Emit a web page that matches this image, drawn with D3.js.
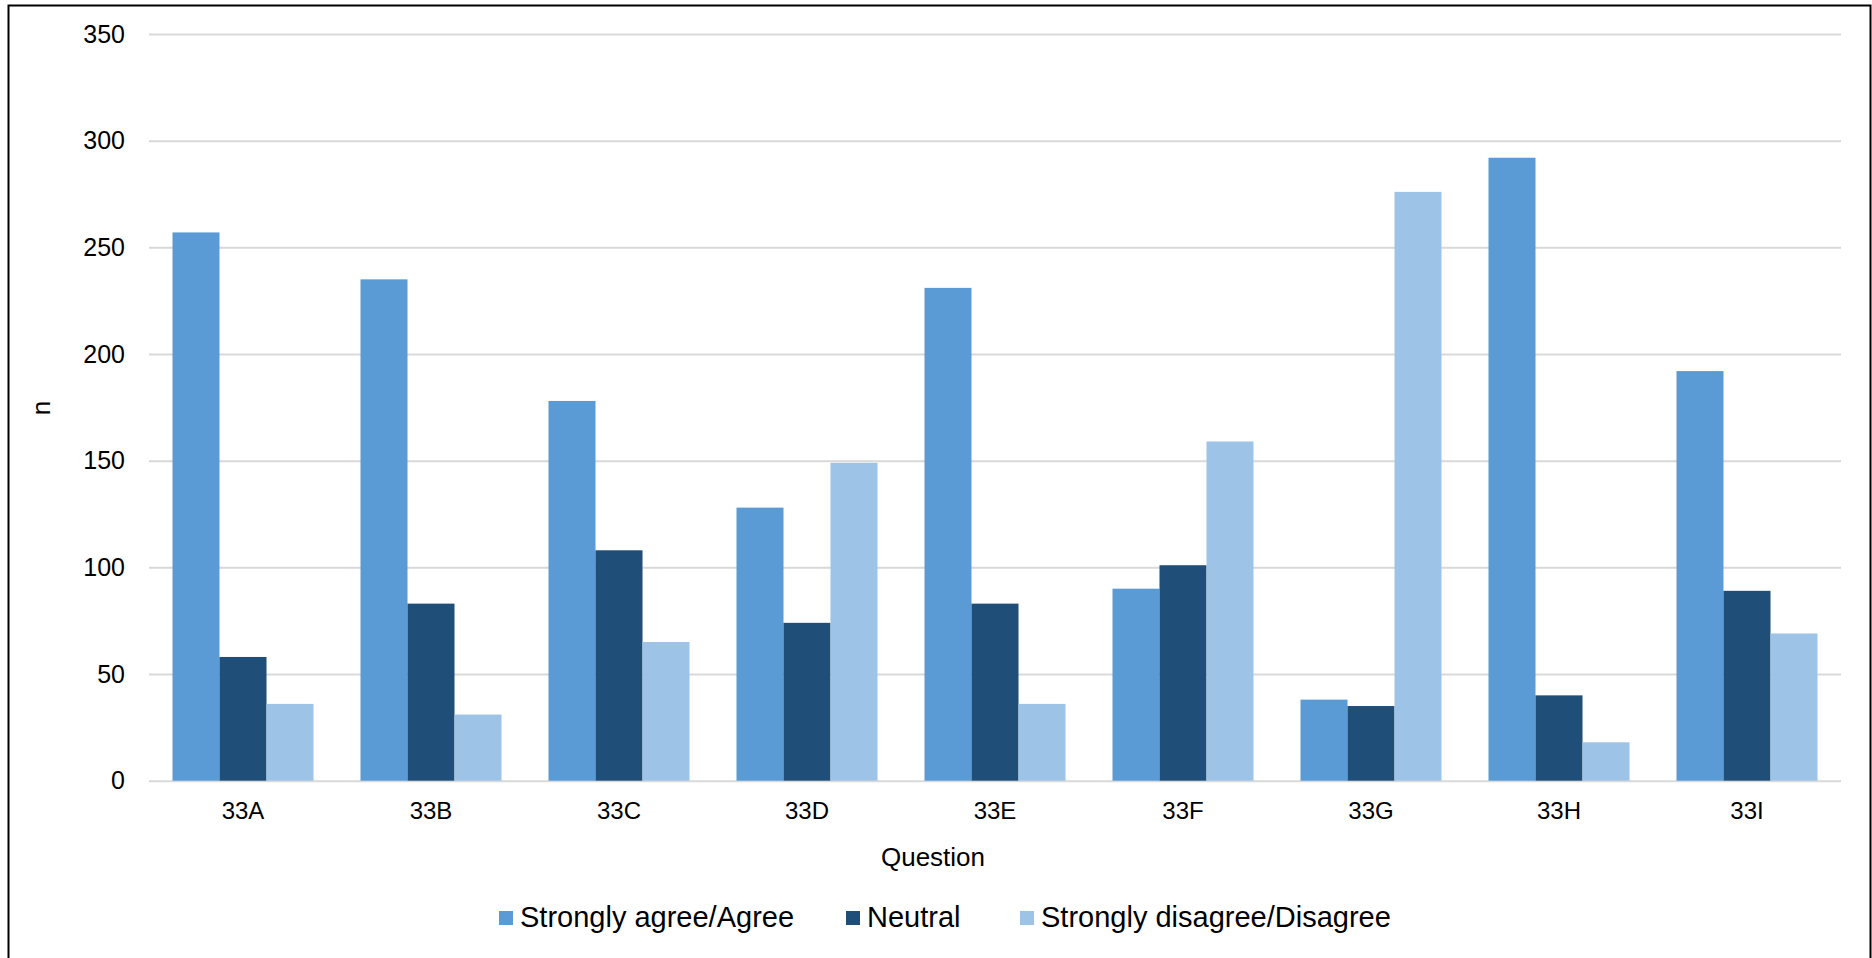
<!DOCTYPE html>
<html>
<head>
<meta charset="utf-8">
<script src="https://cdn.jsdelivr.net/npm/d3@7"></script>
<style>
  html, body { margin: 0; padding: 0; background: #fff; }
  svg { display: block; font-family: "Liberation Sans", Arial, sans-serif; }
</style>
</head>
<body>
<svg id="chart" width="1872" height="958"></svg>
<script>
const categories = ["33A", "33B", "33C", "33D", "33E", "33F", "33G", "33H", "33I"];
const seriesNames = ["Strongly agree/Agree", "Neutral", "Strongly disagree/Disagree"];
const agree    = [257, 235, 178, 128, 231, 90, 38, 292, 192];
const neutral  = [58, 83, 108, 74, 83, 101, 35, 40, 89];
const disagree = [36, 31, 65, 149, 36, 159, 276, 18, 69];
const yTicks = [0, 50, 100, 150, 200, 250, 300, 350];
const colors = ["#5b9bd5", "#1f4e79", "#9dc3e6"];

const seriesValues = [agree, neutral, disagree];
const data = categories.map((c, i) => ({
  cat: c,
  values: seriesNames.map((s, j) => ({ series: s, idx: j, value: seriesValues[j][i] }))
}));

const svg = d3.select("#chart");
const plotLeft = 149, plotRight = 1841, plotTop = 34, plotBottom = 780.7;

// outer frame
svg.append("rect")
  .attr("x", 8.5).attr("y", 5.5)
  .attr("width", 1862).attr("height", 960)
  .attr("fill", "none").attr("stroke", "#000").attr("stroke-width", 2);

const x = d3.scaleBand().domain(categories).range([plotLeft, plotRight])
  .paddingInner(0.25).paddingOuter(0.125);
const xs = d3.scaleBand().domain(seriesNames).range([0, x.bandwidth()]).padding(0);
const y = d3.scaleLinear().domain([0, 350]).range([plotBottom, plotTop]);

// y axis + gridlines
const yAxis = svg.append("g")
  .attr("transform", `translate(${plotLeft},0)`)
  .call(d3.axisLeft(y).tickValues(yTicks).tickSize(-(plotRight - plotLeft)).tickPadding(24));
yAxis.select(".domain").remove();
yAxis.selectAll(".tick line").attr("stroke", "#d9d9d9").attr("stroke-width", 2);
yAxis.selectAll(".tick text").attr("font-size", 25).attr("fill", "#000")
  .attr("font-family", "'Liberation Sans', Arial, sans-serif");

// bars
const groups = svg.append("g").selectAll("g").data(data).join("g")
  .attr("transform", d => `translate(${x(d.cat)},0)`);
groups.selectAll("rect").data(d => d.values).join("rect")
  .attr("x", d => xs(d.series))
  .attr("width", xs.bandwidth())
  .attr("y", d => y(d.value))
  .attr("height", d => y(0) - y(d.value))
  .attr("fill", d => colors[d.idx]);

// x axis
const xAxis = svg.append("g")
  .attr("transform", `translate(0,${plotBottom})`)
  .call(d3.axisBottom(x).tickSize(0).tickPadding(21));
xAxis.select(".domain").remove();
xAxis.selectAll(".tick text").attr("font-size", 24).attr("fill", "#000")
  .attr("font-family", "'Liberation Sans', Arial, sans-serif");

// axis titles
svg.append("text")
  .attr("x", 933).attr("y", 866)
  .attr("text-anchor", "middle").attr("font-size", 26).attr("fill", "#000")
  .text("Question");
svg.append("text")
  .attr("transform", "translate(50,408) rotate(-90)")
  .attr("text-anchor", "middle").attr("font-size", 26).attr("fill", "#000")
  .text("n");

// legend
const legendX = [499, 846, 1020];
const leg = svg.append("g").selectAll("g").data(seriesNames).join("g")
  .attr("transform", (d, i) => `translate(${legendX[i]},911)`);
leg.append("rect").attr("width", 14).attr("height", 14)
  .attr("fill", (d, i) => colors[i]);
leg.append("text").attr("x", 21).attr("y", 16)
  .attr("font-size", 29).attr("fill", "#000")
  .text(d => d);
</script>
</body>
</html>
